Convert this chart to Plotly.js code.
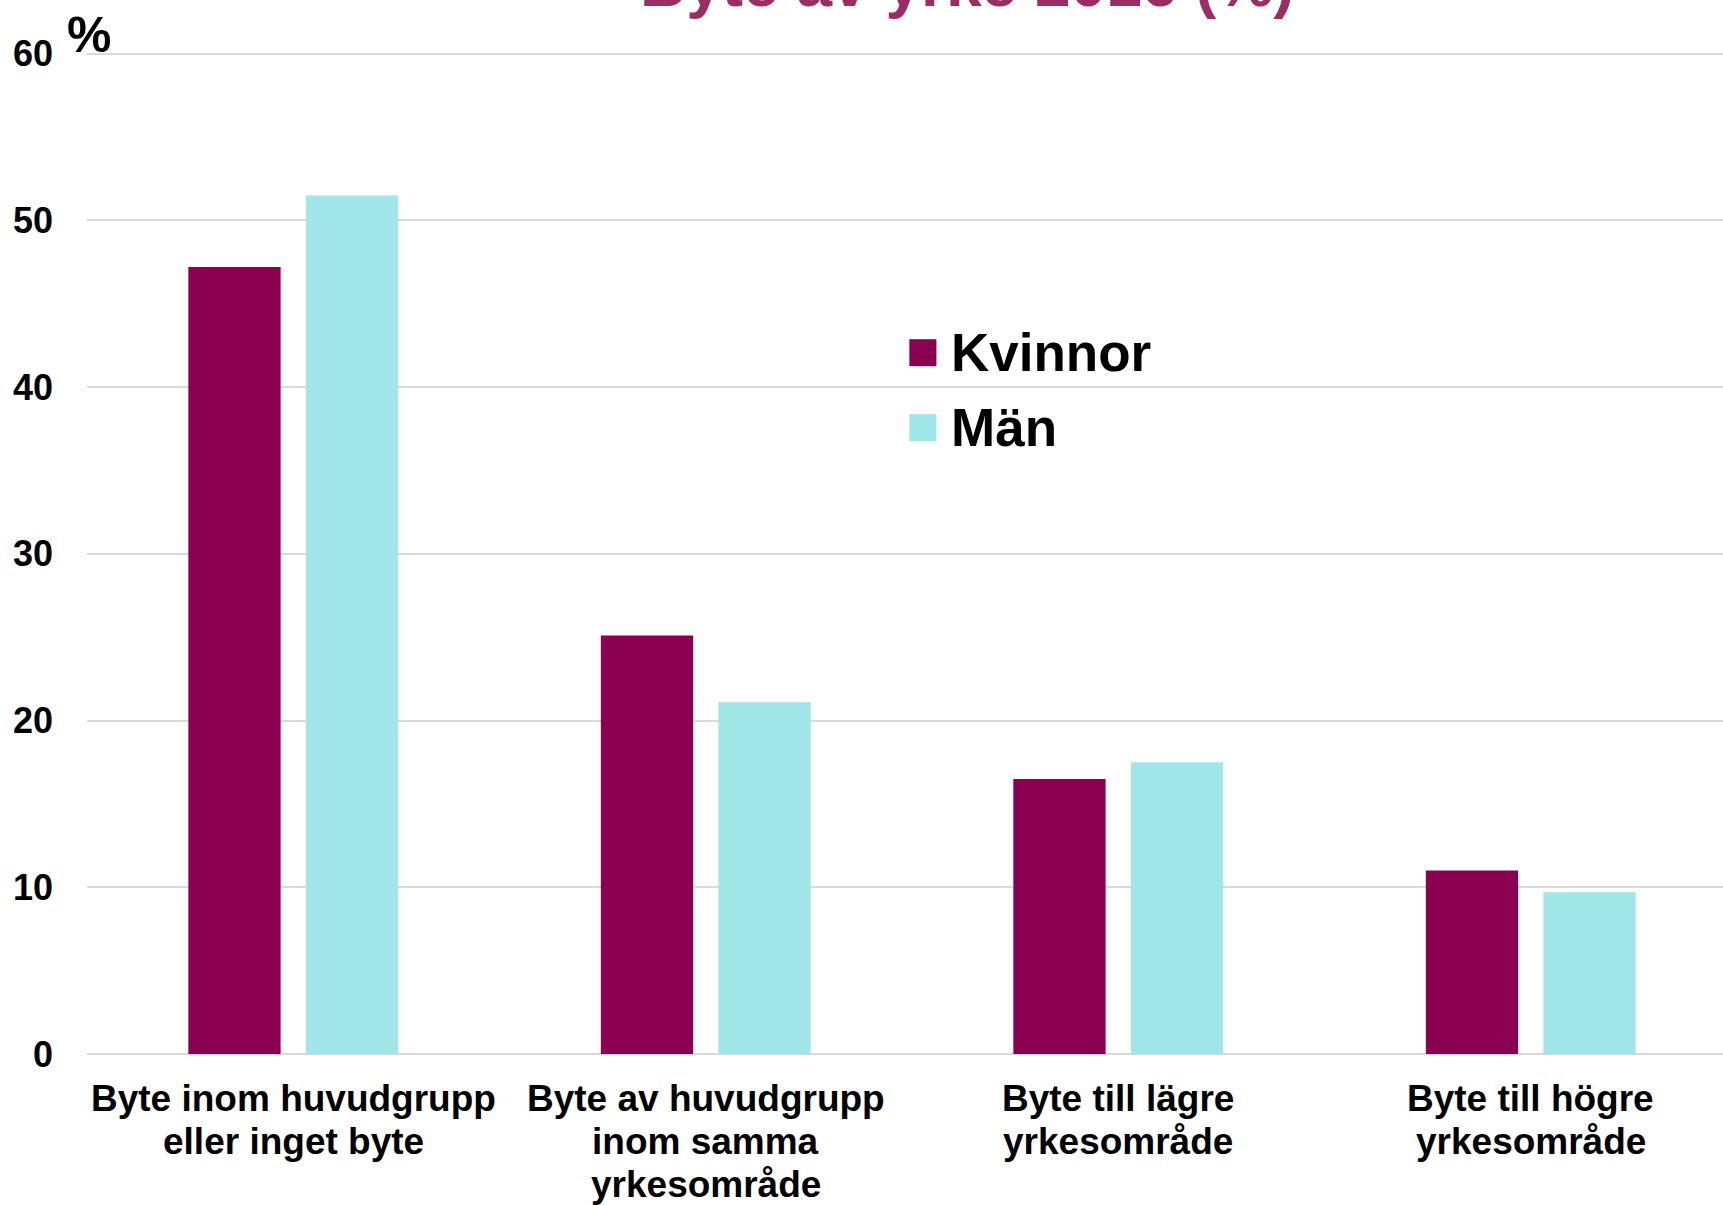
<!DOCTYPE html>
<html>
<head>
<meta charset="utf-8">
<script src="https://cdn.plot.ly/plotly-3.0.1.min.js"></script>
<style>
  html, body { margin: 0; padding: 0; background: #ffffff; overflow: hidden; }
  #wrap { width: 1723px; height: 1205px; overflow: hidden; position: relative; }
  #chart { width: 1737px; height: 1205px; }
</style>
</head>
<body>
<div id="wrap"><div id="chart"></div></div>
<script>
// ---- Data ----
const categories = [
  "Byte inom huvudgrupp<br>eller inget byte",
  "Byte av huvudgrupp<br>inom samma<br>yrkesområde",
  "Byte till lägre<br>yrkesområde",
  "Byte till högre<br>yrkesområde"
];
const seriesNames = ["Kvinnor", "Män"];
const kvinnor = [47.2, 25.1, 16.5, 11.0];
const man = [51.5, 21.1, 17.5, 9.7];
const yTickValues = [0, 10, 20, 30, 40, 50, 60];
const chartTitle = "Byte av yrke 2016 (%)";
const yUnit = "%";

// ---- Styles ----
const colors = ["#8B0050", "#A0E5E8"];
const FONT = "Liberation Sans, Arial, Helvetica, sans-serif";

const traces = [
  { type: "bar", name: seriesNames[0], x: categories, y: kvinnor,
    marker: { color: colors[0] }, showlegend: false, hoverinfo: "y" },
  { type: "bar", name: seriesNames[1], x: categories, y: man,
    marker: { color: colors[1] }, showlegend: false, hoverinfo: "y" }
];

// custom legend (large square keys like the reference)
const legendX0 = 0.4984, legendX1 = 0.5148, legendTextX = 0.5227;
const legendRowsY = [0.6999, 0.6251];
const keyHalf = 0.01347;
const shapes = seriesNames.map((n, i) => ({
  type: "rect", xref: "paper", yref: "paper",
  x0: legendX0, x1: legendX1,
  y0: legendRowsY[i] - keyHalf, y1: legendRowsY[i] + keyHalf,
  fillcolor: colors[i], line: { width: 0 }
}));
const annotations = seriesNames.map((n, i) => ({
  xref: "paper", yref: "paper", x: legendTextX, y: legendRowsY[i],
  xanchor: "left", yanchor: "middle", showarrow: false,
  text: n, font: { family: FONT, size: 53, color: "#000000", weight: "bold" }
}));

// category labels (line spacing as in the reference)
const labelFirstOffset = 44, labelLineStep = 43;
categories.forEach((cat) => {
  cat.split("<br>").forEach((line, j) => {
    annotations.push({
      xref: "x", yref: "paper", x: cat, y: 0,
      xanchor: "center", yanchor: "middle", showarrow: false,
      yshift: -(labelFirstOffset + j * labelLineStep),
      text: line, font: { family: FONT, size: 37, color: "#000000", weight: "bold" }
    });
  });
});

annotations.push({
  xref: "paper", yref: "paper", x: 0.5336, y: 1.0304,
  xanchor: "center", yanchor: "bottom", showarrow: false,
  text: chartTitle, font: { family: FONT, size: 64, color: "#9B2D62", weight: "bold" }
});
annotations.push({
  xref: "paper", yref: "paper", x: -0.0134, y: 0.9875,
  xanchor: "left", yanchor: "bottom", showarrow: false,
  text: yUnit, font: { family: FONT, size: 50, color: "#000000", weight: "bold" }
});

const layout = {
  width: 1737, height: 1205,
  margin: { l: 87, r: 0, t: 52, b: 151, pad: 0 },
  paper_bgcolor: "#ffffff", plot_bgcolor: "#ffffff",
  barmode: "group", bargap: 0.43, bargroupgap: 0.215,
  font: { family: FONT, color: "#000000" },
  showlegend: false,
  xaxis: {
    type: "category", showgrid: false, showline: false, ticks: "",
    showticklabels: false, automargin: false
  },
  yaxis: {
    range: [0, 60.1], tickvals: yTickValues, showgrid: true,
    gridcolor: "#D9D9D9", gridwidth: 2,
    zeroline: true, zerolinecolor: "#D9D9D9", zerolinewidth: 2,
    showline: false, ticks: "",
    tickfont: { family: FONT, size: 36, color: "#000000", weight: "bold" },
    ticklabelstandoff: 33, automargin: false
  },
  shapes: shapes,
  annotations: annotations
};

Plotly.newPlot("chart", traces, layout, { displayModeBar: false, staticPlot: true });
</script>
</body>
</html>
